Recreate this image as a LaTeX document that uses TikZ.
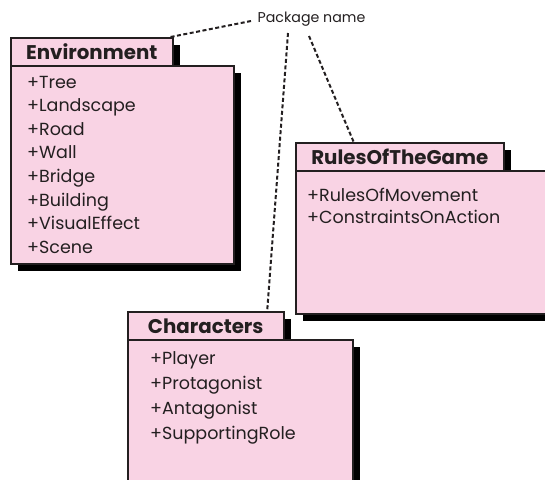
\documentclass[tikz,border=0pt]{standalone}
\usepackage{fontspec}
\setmainfont{Poppins}
\usetikzlibrary{shadows,calc}
\definecolor{pkgpink}{RGB}{249,211,228}
\definecolor{pkgline}{RGB}{35,31,32}
\tikzset{
  pkgshadow/.style={drop shadow={shadow xshift=7pt,shadow yshift=-7pt,fill=black,opacity=1}},
  tabbox/.style={draw=pkgline,line width=1.5pt,fill=pkgpink,pkgshadow,anchor=north west,minimum height=28pt,inner sep=0pt,text height=16pt,text depth=0pt,font=\fontsize{19.8}{22}\selectfont\bfseries,text=pkgline},
  bodybox/.style={draw=pkgline,line width=1.5pt,fill=pkgpink,pkgshadow,anchor=north west,inner sep=0pt},
  itemtext/.style={anchor=base west,inner sep=0pt,text=pkgline,font=\fontsize{17.5}{20}\selectfont},
  leader/.style={draw=pkgline,line width=2pt,dash pattern=on 4pt off 2.5pt}
}
\begin{document}
\begin{tikzpicture}[x=1pt,y=-1pt]
\useasboundingbox (0,0) rectangle (545,479);
\clip (0,0) rectangle (545,479);
% Environment
\node[tabbox,minimum width=162pt] (envtab) at (10,37) {Environment};
\node[bodybox,minimum width=223pt,minimum height=198pt] (envbody) at (10,65) {};
\foreach \t [count=\i] in {Tree,Landscape,Road,Wall,Bridge,Building,VisualEffect,Scene}
  \node[itemtext] (env\i) at (27,{88+23.6*(\i-1)}) {+\t};
% RulesOfTheGame
\node[tabbox,minimum width=208pt] (rulestab) at (295,142) {RulesOfTheGame};
\node[bodybox,minimum width=270pt,minimum height=143pt] (rulesbody) at (295,170) {};
\foreach \t [count=\i] in {RulesOfMovement,ConstraintsOnAction}
  \node[itemtext] (rules\i) at (307,{201+22*(\i-1)}) {+\t};
% Characters
\node[tabbox,minimum width=156pt] (charstab) at (127,311) {Characters};
\node[bodybox,minimum width=225pt,minimum height=200pt] (charsbody) at (127,339) {};
\foreach \t [count=\i] in {Player,Protagonist,Antagonist,SupportingRole}
  \node[itemtext] (chars\i) at (150,{364+25*(\i-1)}) {+\t};
% Label and leaders
\node[anchor=base,inner sep=0pt,text=pkgline,font=\fontsize{14.2}{16}\selectfont] (pkg) at (311.5,22) {Package name};
\coordinate (p1) at (251,21);
\coordinate (p2) at (288,33);
\coordinate (p3) at (309,36);
\draw[leader] (p1) -- ($(envtab.north east)+(-3,0)$);
\draw[leader] (p2) -- ($(charstab.north west)!0.89!(charstab.north east)$);
\draw[leader] (p3) -- ($(rulestab.north west)!0.28!(rulestab.north east)$);
\end{tikzpicture}
\end{document}
